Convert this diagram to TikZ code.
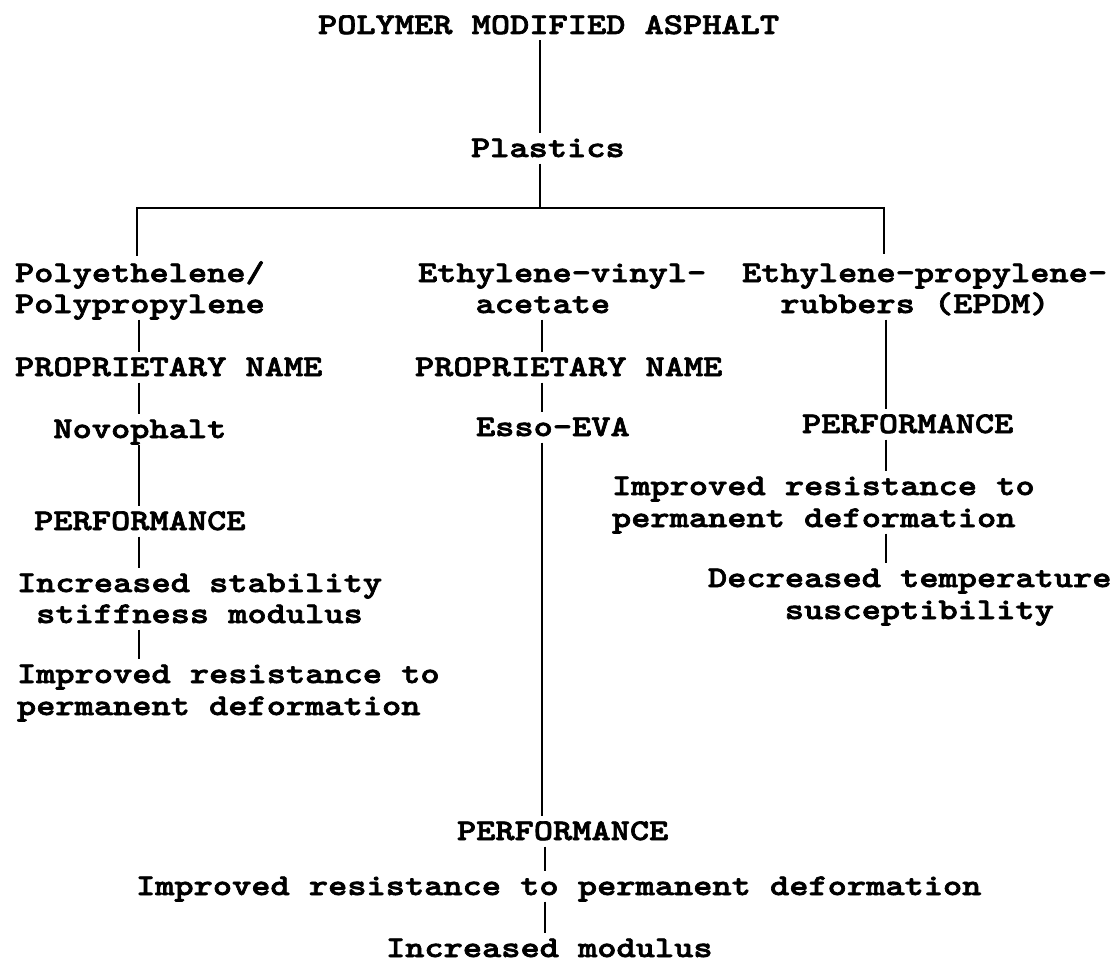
\documentclass[tikz,border=0pt]{standalone}
\usepackage{fontspec}
\newfontfamily\typefont{lmmonolt10-bold.otf}[FakeStretch=1.22,FakeBold=2.2]
\begin{document}
\begin{tikzpicture}[x=1pt,y=-1pt,
  lbl/.style={anchor=base west, inner sep=0pt, outer sep=0pt,
    font=\typefont\fontsize{30}{30}\selectfont,
    text height=18pt, text depth=0pt},
  conn/.style={line width=1.6pt, shorten <=6.5pt, shorten >=6.5pt},
  branch/.style={line width=1.6pt}]
\useasboundingbox[fill=white] (0,0) rectangle (1119,966);
% coordinates of the vertical connector lines
\coordinate (xt) at (540,0);
\coordinate (xl) at (139,0);
\coordinate (xm) at (542,0);
\coordinate (xb) at (545,0);
\coordinate (xr) at (886,0);
\coordinate (hm) at (540,208);
\coordinate (hl) at (137,208);
\coordinate (hr) at (884,208);
% top
\node[lbl] (title) at (318,34) {POLYMER MODIFIED ASPHALT};
\node[lbl] (plastics) at (471,157) {Plastics};
% left column
\node[lbl] (pe1) at (15,282) {Polyethelene/};
\node[lbl] (pe2) at (15,313) {Polypropylene};
\node[lbl] (pn1) at (15,376) {PROPRIETARY NAME};
\node[lbl] (nv) at (53.4,438) {Novophalt};
\node[lbl] (pf1) at (34.2,530) {PERFORMANCE};
\node[lbl] (is1) at (17,592) {Increased stability};
\node[lbl] (is2) at (36.2,623) {stiffness modulus};
\node[lbl] (ir1) at (17,683) {Improved resistance to};
\node[lbl] (ir2) at (17,715) {permanent deformation};
% middle column
\node[lbl] (ev1) at (418,282) {Ethylene-vinyl-};
\node[lbl] (ev2) at (475.6,313) {acetate};
\node[lbl] (pn2) at (415,376) {PROPRIETARY NAME};
\node[lbl] (es) at (476,436) {Esso-EVA};
\node[lbl] (pf2) at (457,840) {PERFORMANCE};
\node[lbl] (ir3) at (136,895) {Improved resistance to permanent deformation};
\node[lbl] (im) at (386,957) {Increased modulus};
% right column
\node[lbl] (ep1) at (742,282) {Ethylene-propylene-};
\node[lbl] (ep2) at (780.4,313) {rubbers (EPDM)};
\node[lbl] (pf3) at (802,433) {PERFORMANCE};
\node[lbl] (ir4) at (612,495) {Improved resistance to};
\node[lbl] (ir5) at (612,527) {permanent deformation};
\node[lbl] (dt1) at (708,587) {Decreased temperature};
\node[lbl] (dt2) at (784.8,619) {susceptibility};
% connectors
\draw[conn] (xt |- title.south) -- (xt |- plastics.north);
\draw[branch, shorten <=6.5pt] (xt |- plastics.south) -- (hm);
\draw[branch, shorten >=8pt] (hm) -- (hl) -- (hl |- pe1.north);
\draw[branch, shorten >=10pt] (hm) -- (hr) -- (hr |- ep1.north);
\draw[conn] (xl |- pe2.south) -- (xl |- pn1.north);
\draw[conn] (xl |- pn1.south) -- (xl |- nv.north);
\draw[conn] (xl |- nv.south) -- (xl |- pf1.north);
\draw[conn] (xl |- pf1.south) -- (xl |- is1.north);
\draw[conn] (xl |- is2.south) -- (xl |- ir1.north);
\draw[conn] (xm |- ev2.south) -- (xm |- pn2.north);
\draw[conn] (xm |- pn2.south) -- (xm |- es.north);
\draw[conn] (xm |- es.south) -- (xm |- pf2.north);
\draw[conn] (xb |- pf2.south) -- (xb |- ir3.north);
\draw[conn] (xb |- ir3.south) -- (xb |- im.north);
\draw[conn] (xr |- ep2.south) -- (xr |- pf3.north);
\draw[conn] (xr |- pf3.south) -- (xr |- ir4.north);
\draw[conn] (xr |- ir5.south) -- (xr |- dt1.north);
\end{tikzpicture}
\end{document}
